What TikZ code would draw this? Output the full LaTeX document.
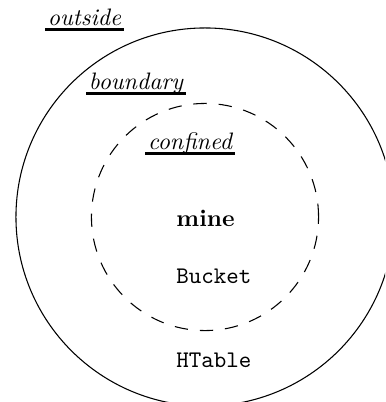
\documentclass[tikz,border=0pt]{standalone}
\begin{document}
\begin{tikzpicture}[x=0.42pt,y=-0.42pt,
  lbl/.style={inner xsep=1pt,inner ysep=0pt,anchor=base,font=\itshape},
  txt/.style={inner sep=0pt,anchor=base west},
  uline/.style={line width=1.3pt},
  region/.style={line width=0.45pt}]
\useasboundingbox (0,0) rectangle (385,402);
\clip (0,0) rectangle (385,402);
\coordinate (c) at (205,217);
\draw[region] (c) circle[radius=79.4pt];
\draw[region,dash pattern=on 5.6pt off 5pt] (c) circle[radius=47.7pt];
\node[lbl] (outside) at (84.5,25) {outside};
\node[lbl] (boundary) at (136,89) {boundary};
\node[lbl] (confined) at (190,149) {confined};
\draw[uline] ([yshift=-1.9pt]outside.base west) -- ([yshift=-1.9pt]outside.base east);
\draw[uline] ([yshift=-1.9pt]boundary.base west) -- ([yshift=-1.9pt]boundary.base east);
\draw[uline] ([yshift=-1.9pt]confined.base west) -- ([yshift=-1.9pt]confined.base east);
\node[txt,font=\bfseries] (mine) at (176,226) {mine};
\node[txt,font=\ttfamily] (bucket) at (176,283) {Bucket};
\node[txt,font=\ttfamily] (htable) at (176,367) {HTable};
\end{tikzpicture}
\end{document}
